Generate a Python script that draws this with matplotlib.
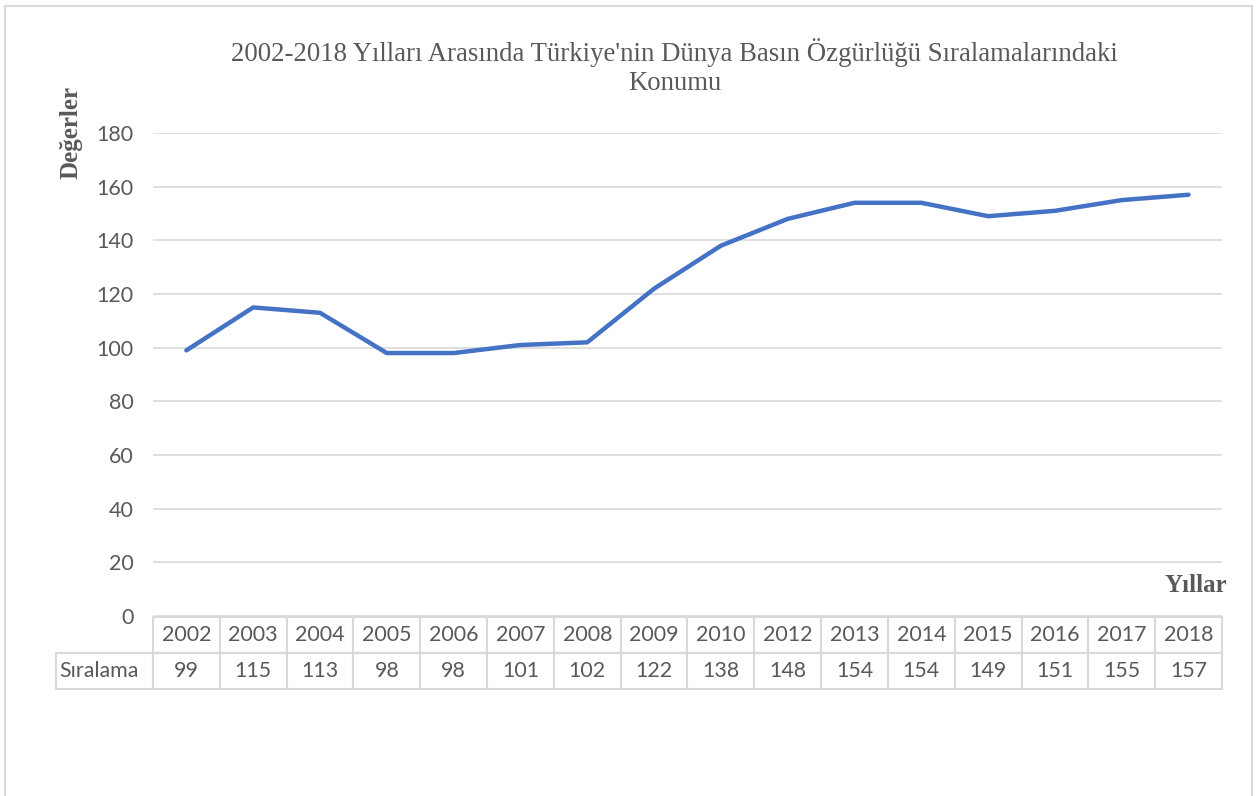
import matplotlib.pyplot as plt
from matplotlib.patches import Rectangle

yillar = ["2002", "2003", "2004", "2005", "2006", "2007", "2008", "2009",
          "2010", "2012", "2013", "2014", "2015", "2016", "2017", "2018"]
siralama = [99, 115, 113, 98, 98, 101, 102, 122, 138, 148, 154, 154, 149, 151, 155, 157]
seri_adi = "Sıralama"
baslik = "2002-2018 Yılları Arasında Türkiye'nin Dünya Basın Özgürlüğü Sıralamalarındaki\nKonumu"

gri = "#595959"
cizgi = "#d9d9d9"
tablo_font = "Lato"

fig = plt.figure(figsize=(12.59, 7.96), dpi=100)
ax = fig.add_axes([0.1215, 0.2261, 0.8491, 0.6068])

# cerceve
fig.patches.append(Rectangle((5 / 1259, -0.01), 1247 / 1259, 1 - 6 / 796 + 0.01,
                             transform=fig.transFigure, fill=False,
                             edgecolor=cizgi, linewidth=1.5))

x = list(range(len(yillar)))
ax.plot(x, siralama, color="#4472C4", linewidth=3.2, solid_capstyle="round")

ax.set_xlim(-0.5, len(yillar) - 0.5)
ax.set_ylim(0, 180)
ax.set_yticks(range(0, 181, 20))
ax.set_xticks([])
for s in ax.spines.values():
    s.set_visible(False)
ax.grid(axis="y", color=cizgi, linewidth=1.2)
ax.set_axisbelow(True)
ax.tick_params(axis="y", length=0, pad=14, labelsize=15.5, labelcolor=gri)
for t in ax.get_yticklabels():
    t.set_fontfamily(tablo_font)

fig.text(0.536, 0.916, baslik, ha="center", va="center", fontsize=19.3,
         color=gri, family="Liberation Serif", linespacing=1.2)

fig.text(0.056, 0.834, "Değerler", rotation=90, ha="center", va="center",
         fontsize=18, fontweight="bold", color=gri, family="Liberation Serif")
fig.text(0.9745, 0.264, "Yıllar", ha="right", va="center",
         fontsize=18, fontweight="bold", color=gri, family="Liberation Serif")

# veri tablosu
hucre = [[""] + yillar, [seri_adi] + [str(v) for v in siralama]]
genislik = [97] + [1069 / 16] * len(yillar)
tablo = ax.table(cellText=hucre, colWidths=genislik, cellLoc="center",
                 bbox=[-0.0907, -0.1511, 1.0907, 0.149])
tablo.auto_set_font_size(False)
for (r, c), cell in tablo.get_celld().items():
    cell.set_edgecolor(cizgi)
    cell.set_linewidth(1.5)
    cell.get_text().set_fontsize(15.4)
    cell.get_text().set_color(gri)
    cell.get_text().set_fontfamily(tablo_font)
    if r == 0 and c == 0:
        cell.visible_edges = ""
    if r == 1 and c == 0:
        cell.get_text().set_ha("left")
        cell.PAD = 0.03

fig.savefig("out.png", dpi=100)
